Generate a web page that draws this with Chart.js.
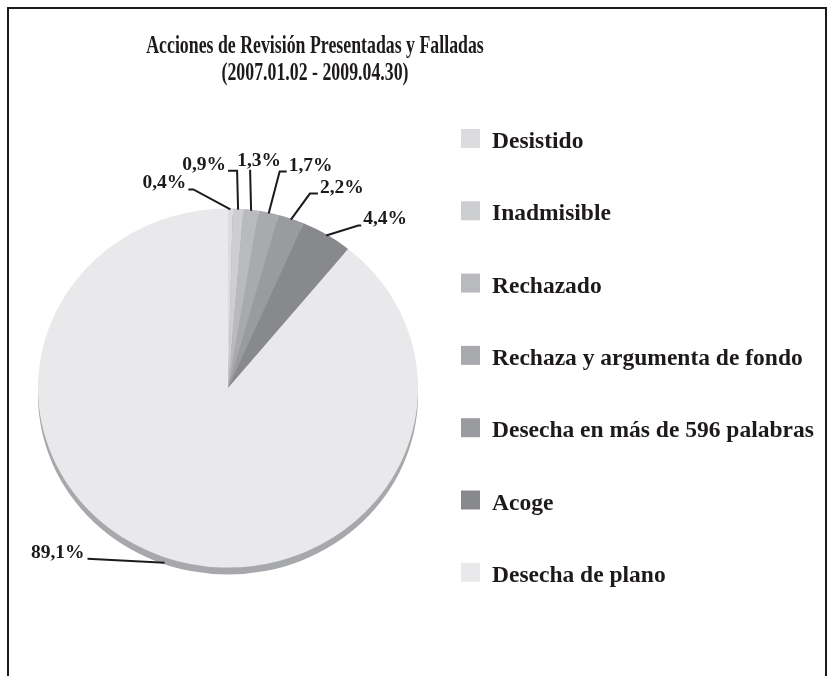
<!DOCTYPE html>
<html><head><meta charset="utf-8">
<script src="https://cdn.jsdelivr.net/npm/chart.js@4.4.1/dist/chart.umd.min.js"></script>
<style>html,body{margin:0;padding:0;background:#fff;}#wrap{position:relative;width:828px;height:676px;}</style>
</head><body><div id="wrap"><canvas id="c" width="828" height="676"></canvas></div>
<script>
const titleLines = ['Acciones de Revisión Presentadas y Falladas', '(2007.01.02 - 2009.04.30)'];
const categories = ['Desistido', 'Inadmisible', 'Rechazado', 'Rechaza y argumenta de fondo', 'Desecha en más de 596 palabras', 'Acoge', 'Desecha de plano'];
const shares = [0.4, 0.9, 1.3, 1.7, 2.2, 4.4, 89.1];
const sliceColors = ['#dcdcde', '#cdced0', '#b9babd', '#a9aaad', '#9a9b9e', '#88898c', '#e9e9eb'];

// leader-line layout for each value label (relative to the slice's edge point)
const labelLayout = [
  {dx: -37, dy: -20, tail: -5, align: 'right', tx: -2, ty: -6},
  {dx: -1,  dy: -39, tail: -9, align: 'right', tx: -2, ty: -6},
  {dx: -1,  dy: -41, tail: 0,  align: 'center', tx: 9, ty: -9},
  {dx: 11,  dy: -42, tail: 7,  align: 'left', tx: 2, ty: -6},
  {dx: 19,  dy: -26, tail: 8,  align: 'left', tx: 2, ty: -6},
  {dx: 32,  dy: -10, tail: 3,  align: 'left', tx: 2, ty: -6},
  {dx: -77, dy: -4,  tail: 0,  align: 'right', tx: -3, ty: -6}
];
const SQUASH = 0.945, DEPTH = 7, INK = '#1e1a1b';
const fmt = v => v.toFixed(1).replace('.', ',') + '%';

const framePlugin = {
  id: 'frame',
  beforeDraw(chart) {
    const ctx = chart.ctx;
    ctx.save();
    ctx.fillStyle = '#fff';
    ctx.fillRect(0, 0, chart.width, chart.height);
    ctx.strokeStyle = INK; ctx.lineWidth = 2;
    ctx.beginPath();
    ctx.moveTo(8, chart.height); ctx.lineTo(8, 8); ctx.lineTo(826, 8); ctx.lineTo(826, chart.height);
    ctx.stroke();
    ctx.restore();
  }
};

const tiltPlugin = {
  id: 'tilt',
  beforeDatasetsDraw(chart) {
    const arc = chart.getDatasetMeta(0).data[0];
    const ctx = chart.ctx;
    ctx.save();
    ctx.fillStyle = '#a7a8ab';
    ctx.beginPath();
    ctx.ellipse(arc.x, arc.y + DEPTH, arc.outerRadius, arc.outerRadius * SQUASH, 0, 0, Math.PI * 2);
    ctx.fill();
    ctx.translate(arc.x, arc.y); ctx.scale(1, SQUASH); ctx.translate(-arc.x, -arc.y);
  },
  afterDatasetsDraw(chart) { chart.ctx.restore(); }
};

const annotPlugin = {
  id: 'annot',
  afterDraw(chart) {
    const ctx = chart.ctx;
    const meta = chart.getDatasetMeta(0);
    ctx.save();
    // value labels with leader lines
    ctx.font = 'bold 19.5px "Liberation Serif", "Times New Roman", serif';
    ctx.fillStyle = INK; ctx.strokeStyle = INK; ctx.lineWidth = 2;
    ctx.textBaseline = 'middle';
    meta.data.forEach((arc, i) => {
      const L = labelLayout[i];
      const mid = (arc.startAngle + arc.endAngle) / 2;
      const r = arc.outerRadius - 1;
      const ax = arc.x + r * Math.cos(mid);
      const ay = arc.y + r * Math.sin(mid) * SQUASH + DEPTH * Math.max(0, Math.sin(mid));
      const ex = ax + L.dx, ey = ay + L.dy;
      const tx = ex + L.tail;
      ctx.beginPath();
      ctx.moveTo(ax, ay); ctx.lineTo(ex, ey); ctx.lineTo(tx, ey);
      ctx.stroke();
      ctx.textAlign = L.align;
      ctx.fillText(fmt(shares[i]), tx + L.tx, ey + L.ty);
    });
    // title
    ctx.font = 'bold 26px "Liberation Serif", "Times New Roman", serif';
    ctx.textAlign = 'center';
    titleLines.forEach((t, k) => {
      ctx.save();
      ctx.translate(315, 46 + k * 27);
      ctx.scale(0.685, 1);
      ctx.fillText(t, 0, 0);
      ctx.restore();
    });
    // legend
    ctx.font = 'bold 23.5px "Liberation Serif", "Times New Roman", serif';
    ctx.textAlign = 'left'; ctx.textBaseline = 'alphabetic';
    chart.data.labels.forEach((lab, i) => {
      const cy = 138.5 + i * 72.3;
      ctx.fillStyle = chart.data.datasets[0].backgroundColor[i];
      ctx.fillRect(461, cy - 9.5, 19, 19);
      ctx.fillStyle = INK;
      ctx.fillText(lab, 492, cy + 9.5);
    });
    ctx.restore();
  }
};

new Chart(document.getElementById('c'), {
  type: 'pie',
  data: {
    labels: categories,
    datasets: [{ data: shares, backgroundColor: sliceColors, borderWidth: 0 }]
  },
  options: {
    responsive: false,
    animation: false,
    devicePixelRatio: 1,
    layout: { padding: { left: 38, right: 410, top: 198, bottom: 98 } },
    plugins: { legend: { display: false }, title: { display: false }, tooltip: { enabled: false } }
  },
  plugins: [framePlugin, tiltPlugin, annotPlugin]
});
</script></body></html>
